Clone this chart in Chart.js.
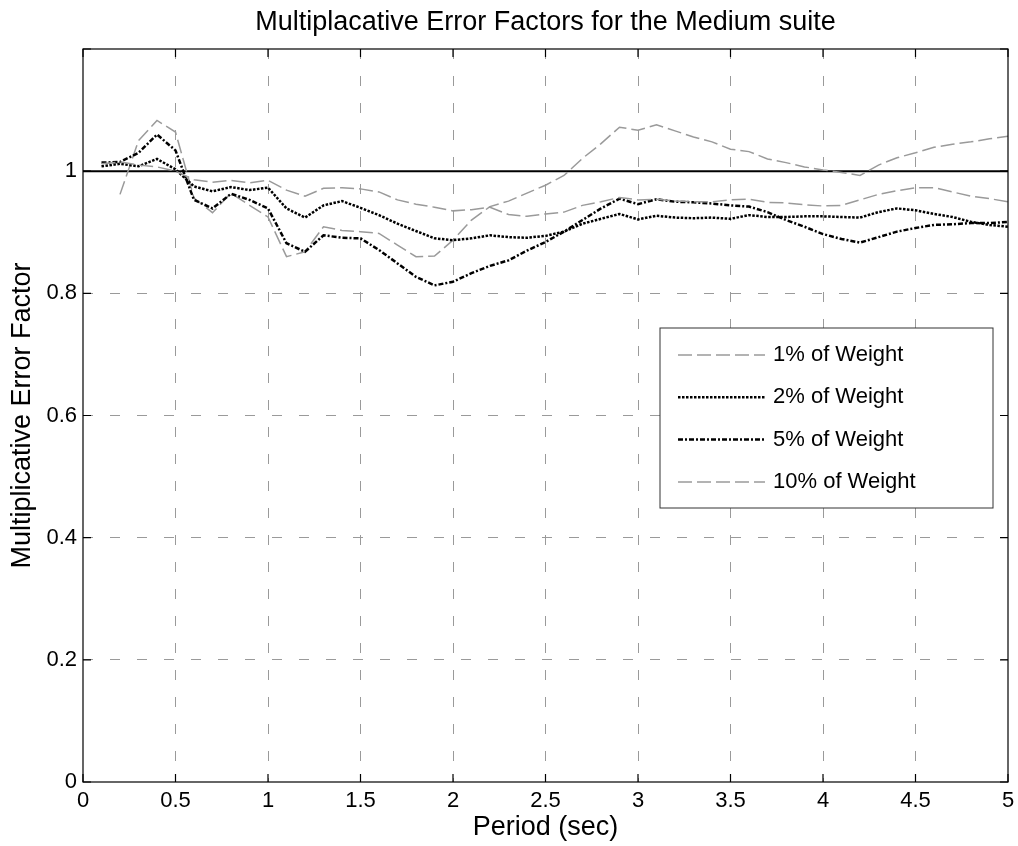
<!DOCTYPE html>
<html>
<head>
<meta charset="utf-8">
<script src="https://cdn.jsdelivr.net/npm/chart.js@4.4.1/dist/chart.umd.min.js"></script>
<style>
  html, body { margin: 0; padding: 0; background: #fff; }
  canvas { display: block; }
</style>
</head>
<body>
<canvas id="errChart" width="1018" height="846"></canvas>
<script>
// periods (sec)
const periods = [0.1, 0.2, 0.3, 0.4, 0.5, 0.6, 0.7, 0.8, 0.9, 1.0,
  1.1, 1.2, 1.3, 1.4, 1.5, 1.6, 1.7, 1.8, 1.9, 2.0,
  2.1, 2.2, 2.3, 2.4, 2.5, 2.6, 2.7, 2.8, 2.9, 3.0,
  3.1, 3.2, 3.3, 3.4, 3.5, 3.6, 3.7, 3.8, 3.9, 4.0,
  4.1, 4.2, 4.3, 4.4, 4.5, 4.6, 4.7, 4.8, 4.9, 5.0];

const weight1 = [1.012, 1.015, 1.010, 1.007, 1.000, 0.986, 0.982, 0.985, 0.981, 0.985,
  0.969, 0.959, 0.972, 0.973, 0.971, 0.966, 0.953, 0.946, 0.941, 0.935,
  0.937, 0.941, 0.929, 0.926, 0.930, 0.933, 0.944, 0.950, 0.957, 0.953,
  0.954, 0.951, 0.950, 0.950, 0.953, 0.954, 0.949, 0.948, 0.945, 0.943,
  0.944, 0.953, 0.962, 0.968, 0.973, 0.973, 0.966, 0.959, 0.955, 0.950];

const weight2 = [1.008, 1.012, 1.008, 1.020, 1.003, 0.975, 0.967, 0.974, 0.969, 0.973,
  0.939, 0.924, 0.944, 0.951, 0.940, 0.928, 0.914, 0.902, 0.890, 0.887,
  0.890, 0.895, 0.892, 0.891, 0.894, 0.901, 0.914, 0.922, 0.930, 0.921,
  0.927, 0.924, 0.923, 0.924, 0.922, 0.928, 0.925, 0.925, 0.926, 0.926,
  0.925, 0.924, 0.933, 0.939, 0.936, 0.930, 0.925, 0.917, 0.912, 0.909];

const weight5 = [1.014, 1.015, 1.030, 1.060, 1.034, 0.953, 0.939, 0.963, 0.953, 0.939,
  0.882, 0.868, 0.895, 0.891, 0.890, 0.871, 0.849, 0.827, 0.813, 0.819,
  0.833, 0.845, 0.854, 0.870, 0.884, 0.901, 0.920, 0.939, 0.955, 0.946,
  0.954, 0.950, 0.949, 0.947, 0.944, 0.942, 0.933, 0.920, 0.909, 0.897,
  0.889, 0.883, 0.892, 0.901, 0.907, 0.912, 0.913, 0.915, 0.915, 0.917];

const weight10 = [null, 0.962, 1.050, 1.083, 1.064, 0.956, 0.932, 0.964, 0.944, 0.925,
  0.860, 0.868, 0.909, 0.903, 0.901, 0.898, 0.879, 0.860, 0.861, 0.887,
  0.920, 0.942, 0.951, 0.964, 0.977, 0.993, 1.021, 1.045, 1.072, 1.067,
  1.076, 1.066, 1.056, 1.048, 1.036, 1.032, 1.020, 1.014, 1.007, 1.002,
  0.998, 0.993, 1.010, 1.022, 1.030, 1.039, 1.044, 1.048, 1.053, 1.057];

// unity reference line
const refX = [0, 5];
const refY = [1, 1];

const TITLE = 'Multiplacative Error Factors for the Medium suite';
const FONT = 'Arial, "Liberation Sans", Helvetica, sans-serif';
const GRID = '#9a9a9a';

function toPoints(xs, ys) {
  return xs.map((x, i) => ({ x: x, y: ys[i] }));
}

const datasets = [
  { label: '1% of Weight', data: toPoints(periods, weight1), borderColor: '#9a9a9a', borderWidth: 1.5, borderDash: [14, 5], inLegend: true },
  { label: '2% of Weight', data: toPoints(periods, weight2), borderColor: '#000', borderWidth: 2.5, borderDash: [2.5, 1.5], inLegend: true },
  { label: '5% of Weight', data: toPoints(periods, weight5), borderColor: '#000', borderWidth: 2.5, borderDash: [5, 2, 2, 2], inLegend: true },
  { label: '10% of Weight', data: toPoints(periods, weight10), borderColor: '#9a9a9a', borderWidth: 1.5, borderDash: [14, 5], inLegend: true },
  { label: 'unity', data: toPoints(refX, refY), borderColor: '#000', borderWidth: 2, borderDash: [], inLegend: false }
];
datasets.forEach(ds => { ds.pointRadius = 0; ds.tension = 0; ds.fill = false; });

// white background, title over the plot, box, inward ticks and in-plot legend
const framePlugin = {
  id: 'frame',
  beforeDraw(chart) {
    const c = chart.ctx;
    c.save();
    c.fillStyle = '#fff';
    c.fillRect(0, 0, chart.width, chart.height);
    c.restore();
  },
  afterDraw(chart) {
    const c = chart.ctx;
    const a = chart.chartArea;
    const xs = chart.scales.x, ys = chart.scales.y;
    c.save();

    c.fillStyle = '#000';
    c.font = '27px ' + FONT;
    c.textAlign = 'center';
    c.textBaseline = 'middle';
    c.fillText(TITLE, (a.left + a.right) / 2, 23);

    c.strokeStyle = '#000';
    c.lineWidth = 1.2;
    c.setLineDash([]);
    c.strokeRect(a.left, a.top, a.right - a.left, a.bottom - a.top);

    c.beginPath();
    xs.ticks.forEach(t => {
      const px = xs.getPixelForValue(t.value);
      c.moveTo(px, a.bottom); c.lineTo(px, a.bottom - 8);
      c.moveTo(px, a.top); c.lineTo(px, a.top + 8);
    });
    ys.ticks.forEach(t => {
      const py = ys.getPixelForValue(t.value);
      c.moveTo(a.left, py); c.lineTo(a.left + 8, py);
      c.moveTo(a.right, py); c.lineTo(a.right - 8, py);
    });
    c.stroke();

    // legend box
    const bx = a.right - 348, by = a.top + 279, bw = 333, bh = 180;
    c.fillStyle = '#fff';
    c.fillRect(bx, by, bw, bh);
    c.lineWidth = 1;
    c.strokeStyle = '#333';
    c.strokeRect(bx, by, bw, bh);
    c.font = '22px ' + FONT;
    c.textBaseline = 'middle';
    c.textAlign = 'left';
    let row = 0;
    chart.data.datasets.forEach(ds => {
      if (!ds.inLegend) return;
      const y = by + 27 + row * 42.3;
      c.beginPath();
      c.setLineDash(ds.borderDash);
      c.strokeStyle = ds.borderColor;
      c.lineWidth = ds.borderWidth;
      c.moveTo(bx + 18, y);
      c.lineTo(bx + 105, y);
      c.stroke();
      c.setLineDash([]);
      c.fillStyle = '#000';
      c.fillText(ds.label, bx + 113, y);
      row++;
    });
    c.restore();
  }
};

new Chart(document.getElementById('errChart'), {
  type: 'line',
  data: { datasets: datasets },
  options: {
    responsive: false,
    animation: false,
    layout: { padding: { left: 0, right: 10, top: 49, bottom: 0 } },
    plugins: {
      legend: { display: false },
      tooltip: { enabled: false },
      title: { display: false }
    },
    scales: {
      x: {
        type: 'linear',
        min: 0, max: 5,
        ticks: {
          stepSize: 0.5,
          color: '#000',
          padding: 6,
          maxRotation: 0,
          font: { family: FONT, size: 22 },
          callback: v => String(Math.round(v * 10) / 10)
        },
        grid: {
          drawTicks: false,
          color: ctx => (ctx.tick && (ctx.tick.value <= 0 || ctx.tick.value >= 5)) ? 'rgba(0,0,0,0)' : GRID,
          lineWidth: 1
        },
        border: { display: false, dash: [10, 17] },
        title: {
          display: true,
          text: 'Period (sec)',
          color: '#000',
          font: { family: FONT, size: 27 },
          padding: { top: 2, bottom: 2 }
        },
        afterFit: s => { s.height = 64; s.paddingLeft = 0; s.paddingRight = 0; }
      },
      y: {
        min: 0, max: 1.2,
        ticks: {
          stepSize: 0.2,
          color: '#000',
          padding: 6,
          font: { family: FONT, size: 22 },
          callback: v => v > 1.1 ? '' : String(Math.round(v * 10) / 10)
        },
        grid: {
          drawTicks: false,
          color: ctx => (ctx.tick && (ctx.tick.value <= 0 || ctx.tick.value >= 1.19)) ? 'rgba(0,0,0,0)' : GRID,
          lineWidth: 1
        },
        border: { display: false, dash: [10, 17] },
        title: {
          display: true,
          text: 'Multiplicative Error Factor',
          color: '#000',
          font: { family: FONT, size: 27 },
          padding: { top: 6, bottom: 6 }
        },
        afterFit: s => { s.width = 83; s.paddingTop = 0; s.paddingBottom = 0; }
      }
    }
  },
  plugins: [framePlugin]
});
</script>
</body>
</html>
